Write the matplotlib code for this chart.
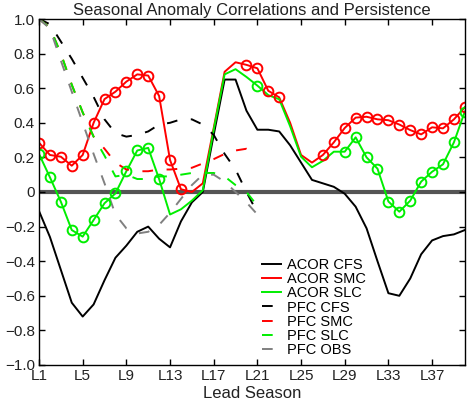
import matplotlib
matplotlib.use('Agg')
import matplotlib.pyplot as plt
import numpy as np

plt.rcParams['font.family'] = ['Liberation Sans', 'DejaVu Sans']

leads = np.arange(1, 41)
pfc_leads = np.arange(1, 22)

acor_cfs = [-0.11, -0.26, -0.45, -0.64, -0.72, -0.65, -0.51, -0.38, -0.31, -0.23,
            -0.20, -0.27, -0.32, -0.17, -0.06, 0.00, 0.33, 0.65, 0.65, 0.47,
            0.36, 0.36, 0.35, 0.27, 0.17, 0.07, 0.05, 0.03, -0.01, -0.085,
            -0.21, -0.40, -0.585, -0.60, -0.50, -0.36, -0.28, -0.255, -0.245, -0.22]
acor_smc = [0.285, 0.214, 0.204, 0.152, 0.214, 0.40, 0.537, 0.58, 0.638, 0.68,
            0.673, 0.555, 0.185, 0.016, 0.0, 0.05, 0.37, 0.695, 0.75, 0.735,
            0.715, 0.585, 0.547, 0.40, 0.214, 0.17, 0.214, 0.287, 0.37, 0.43,
            0.435, 0.42, 0.415, 0.39, 0.358, 0.333, 0.374, 0.368, 0.42, 0.49]
acor_slc = [0.22, 0.085, -0.056, -0.22, -0.258, -0.162, -0.065, -0.008, 0.12, 0.24,
            0.255, 0.075, -0.13, -0.10, -0.05, 0.01, 0.36, 0.68, 0.71, 0.665,
            0.615, 0.56, 0.536, 0.38, 0.204, 0.143, 0.18, 0.233, 0.233, 0.316,
            0.20, 0.135, -0.055, -0.114, -0.05, 0.06, 0.117, 0.16, 0.287, 0.465]

# leads where the ACOR is marked with a circle
smc_marked = list(range(1, 15)) + list(range(20, 24)) + list(range(27, 41))
slc_marked = list(range(1, 13)) + [21] + list(range(29, 41))

pfc_cfs = [1.0, 0.97, 0.87, 0.77, 0.66, 0.55, 0.42, 0.34, 0.32, 0.33, 0.35,
           0.39, 0.40, 0.42, 0.42, 0.39, 0.33, 0.22, 0.13, 0.0, -0.12]
pfc_smc = [1.0, 0.95, 0.80, 0.62, 0.46, 0.32, 0.25, 0.17, 0.13, 0.12, 0.12,
           0.13, 0.13, 0.135, 0.14, 0.165, 0.19, 0.22, 0.24, 0.25, 0.22]
pfc_slc = [1.0, 0.95, 0.80, 0.62, 0.46, 0.32, 0.21, 0.09, 0.10, 0.075, 0.075,
           0.09, 0.09, 0.10, 0.11, 0.11, 0.11, 0.09, 0.04, 0.0, -0.08]
pfc_obs = [1.0, 0.945, 0.76, 0.58, 0.40, 0.22, 0.05, -0.13, -0.21, -0.24, -0.23,
           -0.19, -0.12, -0.04, 0.04, 0.10, 0.10, 0.06, 0.0, -0.06, -0.13]

xtick_leads = list(range(1, 40, 4))
xtick_labels = ['L%d' % i for i in xtick_leads]
ytick_vals = np.round(np.arange(-1.0, 1.01, 0.2), 1)
ytick_labels = ['0' if abs(v) < 1e-9 else ('%.1f' % v).replace('-', '\u2212')
                for v in ytick_vals]

fig = plt.figure(figsize=(4.7, 4.01), dpi=100)
ax = fig.add_axes([0.083, 0.0898, 0.906, 0.8628])

ax.axhline(0, color='#555555', lw=3, zorder=1)

dash = (0, (5.5, 7.0))
green = '#00ee00'
red = '#ff0000'
lw = 1.4
ax.plot(leads, acor_cfs, color='k', lw=lw, label='ACOR CFS')
ax.plot(leads, acor_smc, color=red, lw=lw, label='ACOR SMC')
ax.plot(leads, acor_slc, color=green, lw=lw, label='ACOR SLC')
ax.plot(pfc_leads, pfc_cfs, color='k', lw=lw, ls=dash, label='PFC CFS')
ax.plot(pfc_leads, pfc_smc, color=red, lw=lw, ls=dash, label='PFC SMC')
ax.plot(pfc_leads, pfc_slc, color=green, lw=lw, ls=dash, label='PFC SLC')
ax.plot(pfc_leads, pfc_obs, color='#808080', lw=lw, ls=dash, label='PFC OBS')

smc_y = [acor_smc[i - 1] for i in smc_marked]
slc_y = [acor_slc[i - 1] for i in slc_marked]
ax.plot(smc_marked, smc_y, 'o', mfc='none', mec=red, mew=1.4, ms=7, ls='none')
ax.plot(slc_marked, slc_y, 'o', mfc='none', mec=green, mew=1.4, ms=7, ls='none')

ax.set_xlim(1, 40)
ax.set_ylim(-1.0, 1.0)
ax.set_xticks(xtick_leads)
ax.set_xticklabels(xtick_labels)
ax.set_yticks(ytick_vals)
ax.set_yticklabels(ytick_labels)
ax.tick_params(direction='in', top=True, right=True, length=4, width=1,
               labelsize=11, colors='k', labelcolor='#222222', pad=3)
for s in ax.spines.values():
    s.set_linewidth(1)

ax.set_title('Seasonal Anomaly Correlations and Persistence', fontsize=12,
             color='#222222', pad=3)
ax.set_xlabel('Lead Season', fontsize=12, color='#222222', labelpad=2)

ax.legend(loc='lower left', bbox_to_anchor=(0.523, 0.022), frameon=False,
          fontsize=10.5, handlelength=1.35, handletextpad=0.35,
          labelspacing=0.02, borderaxespad=0, borderpad=0)

fig.savefig('out.png', dpi=100)
